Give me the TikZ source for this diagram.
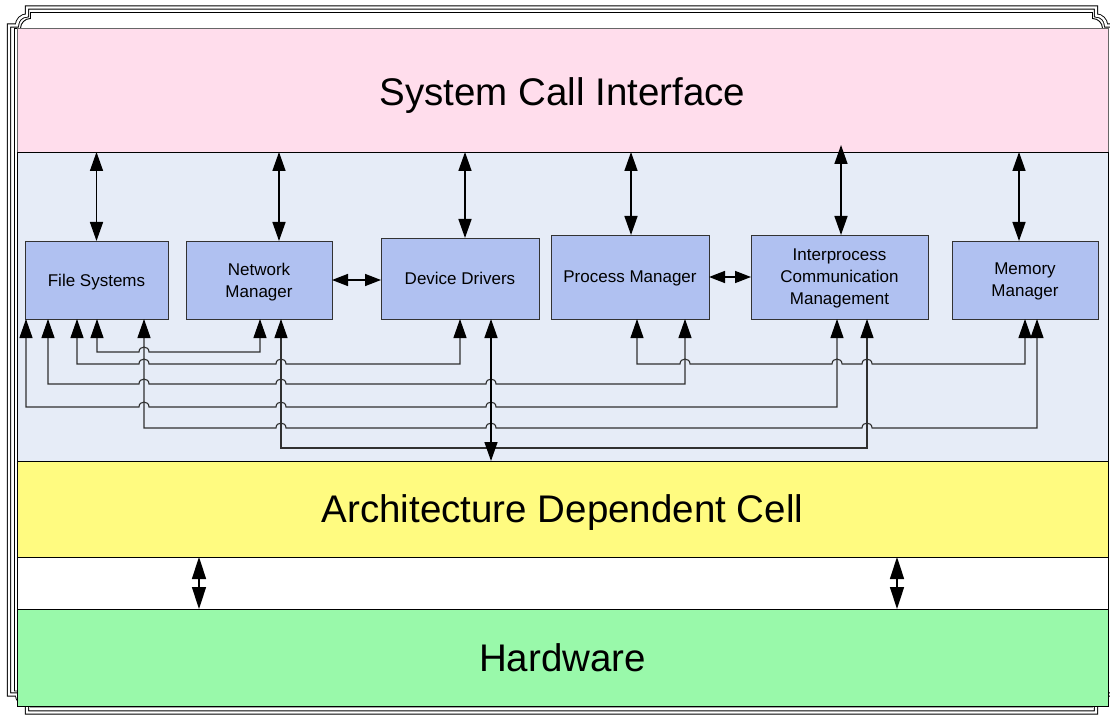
\documentclass[tikz,border=0pt]{standalone}
\usepackage{fontspec}
\setmainfont{Liberation Sans}
\usetikzlibrary{arrows.meta}

\definecolor{sciPink}{HTML}{FFDDEC}
\definecolor{kernBlue}{HTML}{E6ECF7}
\definecolor{modBlue}{HTML}{B0C1F1}
\definecolor{archYellow}{HTML}{FFFB80}
\definecolor{hwGreen}{HTML}{99F9AA}
\definecolor{wire}{HTML}{303030}

% notched frame outline: left, top, right, bottom, corner size
\newcommand\notchframe[5]{%
  (#1,{#2+#5}) -- ({#1+#5-10},{#2+#5})
  .. controls ({#1+#5-10},{#2+#5-5.5}) and ({#1+#5-5.5},{#2+#5-10}) .. ({#1+#5},{#2+#5-10})
  -- ({#1+#5},#2) -- ({#3-#5},#2) -- ({#3-#5},{#2+#5-10})
  .. controls ({#3-#5+5.5},{#2+#5-10}) and ({#3-#5+10},{#2+#5-5.5}) .. ({#3-#5+10},{#2+#5})
  -- (#3,{#2+#5}) -- (#3,{#4-#5}) -- ({#3-#5+10},{#4-#5})
  .. controls ({#3-#5+10},{#4-#5+5.5}) and ({#3-#5+5.5},{#4-#5+10}) .. ({#3-#5},{#4-#5+10})
  -- ({#3-#5},#4) -- ({#1+#5},#4) -- ({#1+#5},{#4-#5+10})
  .. controls ({#1+#5-5.5},{#4-#5+10}) and ({#1+#5-10},{#4-#5+5.5}) .. ({#1+#5-10},{#4-#5})
  -- (#1,{#4-#5}) -- cycle}

% a small hop of a horizontal wire over a vertical one at x=#1, y=#2
\newcommand\hop[2]{-- ({#1-5},#2) .. controls ({#1-5},{#2-6.6}) and ({#1+5},{#2-6.6}) .. ({#1+5},#2)}

\begin{document}
\begin{tikzpicture}[x=1pt,y=-1pt,
  band/.style={draw=black, line width=0.8pt, anchor=north west, inner sep=0pt, outer sep=0pt, minimum width=1091pt},
  title/.style={font=\fontsize{38.5}{46}\selectfont, text height=27.6pt, text depth=0pt},
  module/.style={draw=black!80, fill=modBlue, line width=0.8pt, anchor=north west, inner sep=0pt, outer sep=0pt,
                 align=center, text depth=0pt, font=\fontsize{17}{22}\selectfont},
  bus/.style={draw=wire, line width=1.1pt,
              {Triangle[length=19pt,width=13pt,black]}-{Triangle[length=19pt,width=13pt,black]}},
  link/.style={draw=black, line width=1.5pt, {Triangle[length=19pt,width=13pt]}-{Triangle[length=19pt,width=13pt]}},
  shortlink/.style={draw=black, line width=1.5pt, {Triangle[length=16pt,width=12pt]}-{Triangle[length=16pt,width=12pt]}},
  hwlink/.style={draw=black, line width=1.5pt, {Triangle[length=22pt,width=14pt]}-{Triangle[length=22pt,width=14pt]}},
  frameline/.style={draw=black, line width=0.9pt},
]
\useasboundingbox (0,0) rectangle (1110,719);

% outer frame
\draw[frameline, double=white, double distance=2.4pt] \notchframe{9}{7.5}{1114}{712.5}{18};
\draw[frameline] \notchframe{14.5}{12.5}{1108.5}{707}{16};

% layers
\node[band, fill=sciPink, draw=black!60, minimum height=124pt, title] (sci) at (17,28) {\raisebox{-2pt}{System Call Interface}};
\node[band, fill=kernBlue, minimum height=309pt] (kern) at (17,152) {};
\node[band, fill=archYellow, minimum height=96pt, title] (adc) at (17,461) {Architecture Dependent Cell};
\node[band, fill=white, minimum height=52pt] (gap) at (17,557) {};
\node[band, fill=hwGreen, minimum height=97pt, title] (hw) at (17,609) {Hardware};

% kernel subsystems
\node[module, minimum width=143pt, minimum height=78pt] (fs)  at (25,241)  {File Systems};
\node[module, minimum width=146pt, minimum height=78pt] (nm)  at (186,241) {Network\\Manager};
\node[module, minimum width=158pt, minimum height=81pt] (dd)  at (381,238) {Device Drivers};
\node[module, minimum width=158pt, minimum height=84pt] (pm)  at (551,235) {Process Manager};
\node[module, minimum width=177pt, minimum height=84pt] (ipc) at (751,235) {Interprocess\\Communication\\Management};
\node[module, minimum width=146pt, minimum height=78pt] (mm)  at (952,241) {Memory\\Manager};

% system call interface to subsystems
\draw[link] (fs.north) -- (fs.north |- sci.south);
\draw[link] ([xshift=20pt]nm.north) -- ([xshift=20pt]nm.north |- sci.south);
\draw[link] ([xshift=5pt]dd.north) -- ([xshift=5pt]dd.north |- sci.south);
\draw[link] ([xshift=1pt]pm.north) -- ([xshift=1pt]pm.north |- sci.south);
\draw[link] ([xshift=1.5pt]ipc.north) -- ([xshift=1.5pt,yshift=7pt]ipc.north |- sci.south);
\draw[link] ([xshift=-6pt]mm.north) -- ([xshift=-6pt]mm.north |- sci.south);

% side links
\draw[shortlink] (nm.east) -- (nm.east -| dd.west);
\draw[shortlink] (pm.east) -- (pm.east -| ipc.west);

% internal bus wiring
\draw[bus] ([xshift=72pt]fs.south west) -- (97,352) \hop{144}{352} -- (260,352) -- ([xshift=74pt]nm.south west);
\draw[bus] ([xshift=52pt]fs.south west) -- (77,364) \hop{144}{364} \hop{281}{364} -- (460,364) -- ([xshift=79pt]dd.south west);
\draw[bus] ([xshift=23pt]fs.south west) -- (48,384) \hop{144}{384} \hop{281}{384} \hop{491}{384} -- (685,384) -- ([xshift=134pt]pm.south west);
\draw[bus] ([xshift=1pt]fs.south west) -- (26,407) \hop{144}{407} \hop{281}{407} \hop{491}{407} -- (837,407) -- ([xshift=86pt]ipc.south west);
\draw[bus] ([xshift=119pt]fs.south west) -- (144,428) \hop{281}{428} \hop{491}{428} \hop{867}{428} -- (1037,428) -- ([xshift=85pt]mm.south west);
\draw[bus] ([xshift=95pt]nm.south west) -- (281,448) -- (867,448) -- ([xshift=116pt]ipc.south west);
\draw[bus] ([xshift=86pt]pm.south west) -- (637,364) \hop{685}{364} \hop{837}{364} \hop{867}{364} -- (1025,364) -- ([xshift=73pt]mm.south west);

% device drivers to architecture layer
\draw[link] ([xshift=110pt]dd.south west) -- ([xshift=110pt]dd.south west |- adc.north);

% architecture layer to hardware
\draw[hwlink] ([xshift=182pt]adc.south west) -- ([xshift=182pt]hw.north west);
\draw[hwlink] ([xshift=880pt]adc.south west) -- ([xshift=880pt]hw.north west);
\end{tikzpicture}
\end{document}
